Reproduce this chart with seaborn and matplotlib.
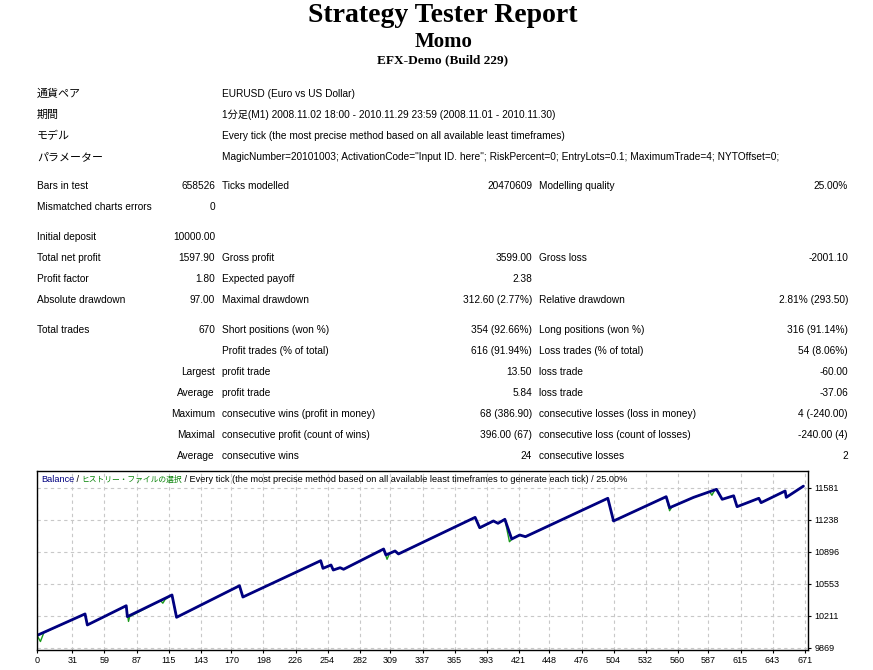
import matplotlib
matplotlib.use("Agg")
import matplotlib.pyplot as plt
import seaborn as sns

# ---- report data ----
title = "Strategy Tester Report"
ea_name = "Momo"
server = "EFX-Demo (Build 229)"

info_labels = ["通貨ペア", "期間", "モデル", "パラメーター"]
info_values = [
    "EURUSD (Euro vs US Dollar)",
    "1分足(M1) 2008.11.02 18:00 - 2010.11.29 23:59 (2008.11.01 - 2010.11.30)",
    "Every tick (the most precise method based on all available least timeframes)",
    'MagicNumber=20101003; ActivationCode="Input ID. here"; RiskPercent=0; '
    "EntryLots=0.1; MaximumTrade=4; NYTOffset=0;",
]

# six columns of the statistics table (left, right, left, right, left, right)
col_a = ["Bars in test", "Mismatched charts errors", "Initial deposit", "Total net profit",
         "Profit factor", "Absolute drawdown", "Total trades", "", "", "", "", "", ""]
col_b = ["658526", "0", "10000.00", "1597.90", "1.80", "97.00", "670", "",
         "Largest", "Average", "Maximum", "Maximal", "Average"]
col_c = ["Ticks modelled", "", "", "Gross profit", "Expected payoff", "Maximal drawdown",
         "Short positions (won %)", "Profit trades (% of total)", "profit trade", "profit trade",
         "consecutive wins (profit in money)", "consecutive profit (count of wins)",
         "consecutive wins"]
col_d = ["20470609", "", "", "3599.00", "2.38", "312.60 (2.77%)", "354 (92.66%)",
         "616 (91.94%)", "13.50", "5.84", "68 (386.90)", "396.00 (67)", "24"]
col_e = ["Modelling quality", "", "", "Gross loss", "", "Relative drawdown",
         "Long positions (won %)", "Loss trades (% of total)", "loss trade", "loss trade",
         "consecutive losses (loss in money)", "consecutive loss (count of losses)",
         "consecutive losses"]
col_f = ["25.00%", "", "", "-2001.10", "", "2.81% (293.50)", "316 (91.14%)", "54 (8.06%)",
         "-60.00", "-37.06", "4 (-240.00)", "-240.00 (4)", "2"]

# ---- balance graph data ----
trade_no = [0, 42, 44, 78, 79, 118, 122, 177, 180, 248, 250, 257, 259, 265, 268, 303, 305,
            313, 316, 383, 387, 399, 403, 409, 415, 422, 427, 499, 504, 550, 553, 574, 594,
            599, 609, 612, 631, 633, 654, 655, 670]
balance = [10000, 10230, 10112, 10318, 10201, 10433, 10194, 10532, 10411, 10800, 10718,
           10754, 10700, 10725, 10708, 10925, 10861, 10904, 10872, 11264, 11153, 11225,
           11200, 11243, 11032, 11075, 11057, 11468, 11225, 11485, 11367, 11478, 11564,
           11457, 11495, 11378, 11468, 11421, 11546, 11478, 11598]

eq_trade = [0, 3, 6, 42, 44, 78, 80, 81, 108, 110, 112, 118, 122, 177, 180, 248, 250, 257,
            259, 265, 268, 303, 306, 308, 313, 316, 383, 387, 399, 403, 409, 413, 416, 422,
            427, 499, 504, 550, 553, 555, 574, 588, 590, 592, 594, 599, 609, 612, 631, 633,
            654, 655, 670]
equity = [10000, 9935, 10030, 10230, 10112, 10318, 10150, 10201, 10373, 10345, 10385,
          10433, 10194, 10532, 10411, 10800, 10718, 10754, 10700, 10725, 10708, 10925,
          10815, 10872, 10904, 10872, 11264, 11145, 11225, 11200, 11243, 11003, 11040,
          11075, 11057, 11468, 11225, 11485, 11335, 11375, 11478, 11538, 11500, 11545,
          11564, 11457, 11495, 11378, 11468, 11421, 11546, 11478, 11598]

x_ticks = [0, 31, 59, 87, 115, 143, 170, 198, 226, 254, 282, 309, 337, 365, 393, 421,
           448, 476, 504, 532, 560, 587, 615, 643, 671]
y_ticks = [9869, 10211, 10553, 10896, 11238, 11581]

# ---- figure ----
sns.set_theme(style="white")
body_font = ["Liberation Sans", "Noto Sans CJK JP", "DejaVu Sans"]
plt.rcParams["font.family"] = body_font

W, H = 873, 670
fig = plt.figure(figsize=(W / 100, H / 100), dpi=100)
fig.patch.set_facecolor("white")


def put(x, y, s, ha="left", size=7.3, **kw):
    if s:
        fig.text(x / W, 1 - y / H, s, ha=ha, va="center", fontsize=size, color="black", **kw)


serif = ["Liberation Serif", "DejaVu Serif"]
put(443, 16, title, ha="center", size=20, family=serif, fontweight="bold")
put(444, 42, ea_name, ha="center", size=15, family=serif, fontweight="bold")
put(443, 60, server, ha="center", size=9.5, family=serif, fontweight="bold")

for i, (lab, val) in enumerate(zip(info_labels, info_values)):
    y = 94 + i * 21
    put(37, y, lab, size=7.9)
    put(222, y, val)

row_y = [186, 207, 237, 258, 279, 300, 330, 351, 372, 393, 414, 435, 456]
for i, y in enumerate(row_y):
    put(37, y, col_a[i])
    put(215, y, col_b[i], ha="right")
    put(222, y, col_c[i])
    put(532, y, col_d[i], ha="right")
    put(539, y, col_e[i])
    put(848, y, col_f[i], ha="right")

# balance chart
ax = fig.add_axes([37 / W, 1 - 650 / H, (808 - 37) / W, (650 - 471) / H])
sns.lineplot(x=eq_trade, y=equity, ax=ax, color="#1a9a1a", lw=1, sort=False, estimator=None)
sns.lineplot(x=trade_no, y=balance, ax=ax, color="#000080", lw=2, sort=False, estimator=None)

ax.set_xlim(0, 674)
ax.set_ylim(9844, 11760)
ax.set_xticks(x_ticks)
ax.set_xticklabels([str(v) for v in x_ticks])
ax.set_yticks(y_ticks)
ax.set_yticklabels([str(v) for v in y_ticks])
ax.yaxis.tick_right()
ax.grid(True, color="#c8c8c8", linestyle=(0, (3, 3)), lw=0.8)
ax.tick_params(axis="both", which="both", direction="out", length=2, width=0.8,
               labelsize=6.5, pad=2.5, colors="black")
ax.tick_params(axis="y", right=True, left=False)
ax.tick_params(axis="x", bottom=True)
for sp in ax.spines.values():
    sp.set_color("black")
    sp.set_linewidth(1)
ax.set_xlabel("")
ax.set_ylabel("")

# coloured caption inside the chart
cap = 6.6
t1 = ax.text(0.005, 0.955, "Balance", transform=ax.transAxes, color="#000080",
             fontsize=cap, va="center", ha="left")
t2 = ax.annotate(" / ", xy=(1, 0), xycoords=t1, va="bottom", fontsize=cap, color="black")
t3 = ax.annotate("ヒストリー・ファイルの選択", xy=(1, 0), xycoords=t2, va="bottom",
                 fontsize=5.6, color="#008000")
ax.annotate(" / Every tick (the most precise method based on all available least timeframes "
            "to generate each tick) / 25.00%", xy=(1, 0), xycoords=t3, va="bottom",
            fontsize=cap, color="black")

fig.savefig("out.png", dpi=100, facecolor="white")
